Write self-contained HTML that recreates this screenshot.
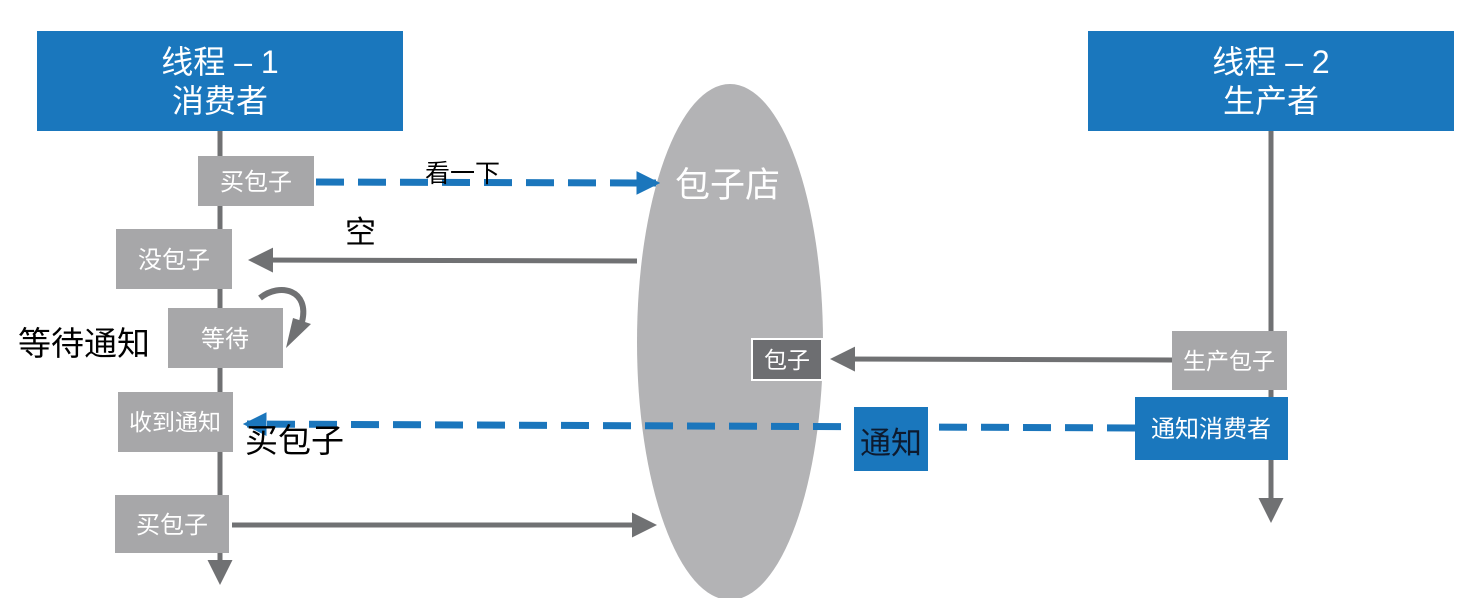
<!DOCTYPE html>
<html><head><meta charset="utf-8"><style>
html,body{margin:0;padding:0;background:#fff;}
svg{display:block;}
text{font-family:"Liberation Sans","Noto Sans CJK SC",sans-serif;}
</style></head><body>
<svg width="1468" height="598" viewBox="0 0 1468 598" xmlns="http://www.w3.org/2000/svg">
<defs>
<marker id="ag" markerWidth="5" markerHeight="5" refX="4" refY="2.5" orient="auto" markerUnits="strokeWidth"><path d="M0,0 L5,2.5 L0,5 z" fill="#707173"/></marker>
<marker id="ab" markerWidth="3.4" markerHeight="3.4" refX="2.8" refY="1.7" orient="auto" markerUnits="strokeWidth"><path d="M0,0 L3.4,1.7 L0,3.4 z" fill="#1b76bc"/></marker>
</defs>
<rect x="37" y="31" width="366" height="100" fill="#1a77bd"/>
<text x="220" y="73" font-size="32" fill="#fff" text-anchor="middle">线程 – 1</text>
<text x="220" y="112" font-size="32" fill="#fff" text-anchor="middle">消费者</text>
<rect x="1088" y="31" width="366" height="100" fill="#1a77bd"/>
<text x="1271" y="73" font-size="32" fill="#fff" text-anchor="middle">线程 – 2</text>
<text x="1271" y="112" font-size="32" fill="#fff" text-anchor="middle">生产者</text>
<line x1="220" y1="131" x2="220" y2="580" stroke="#707173" stroke-width="5" marker-end="url(#ag)"/>
<line x1="1271" y1="131" x2="1271" y2="518" stroke="#707173" stroke-width="5" marker-end="url(#ag)"/>
<ellipse cx="730" cy="342" rx="93" ry="258" fill="#b3b3b5"/>
<text x="675" y="197" font-size="35" fill="#fff">包子店</text>
<line x1="316" y1="182" x2="656" y2="183" stroke="#1b76bc" stroke-width="7" stroke-dasharray="28,14" marker-end="url(#ab)"/>
<line x1="637" y1="261" x2="253" y2="260" stroke="#707173" stroke-width="5" marker-end="url(#ag)"/>
<line x1="1172" y1="360" x2="835" y2="359" stroke="#707173" stroke-width="5" marker-end="url(#ag)"/>
<line x1="1135" y1="428" x2="247" y2="424" stroke="#1b76bc" stroke-width="7" stroke-dasharray="28,14" marker-end="url(#ab)"/>
<line x1="232" y1="525" x2="652" y2="525" stroke="#707173" stroke-width="5" marker-end="url(#ag)"/>
<path d="M260,298 C280,282 310,290 302,322" fill="none" stroke="#707173" stroke-width="6"/>
<path d="M293,318 L311,324 L286,348 z" fill="#707173"/>
<rect x="198" y="156" width="116" height="50" fill="#a7a7a9"/>
<text x="256" y="190" font-size="24" fill="#fff" text-anchor="middle">买包子</text>
<rect x="116" y="229" width="116" height="60" fill="#a7a7a9"/>
<text x="174" y="268" font-size="24" fill="#fff" text-anchor="middle">没包子</text>
<rect x="168" y="308" width="115" height="60" fill="#a7a7a9"/>
<text x="225" y="347" font-size="24" fill="#fff" text-anchor="middle">等待</text>
<rect x="118" y="392" width="115" height="60" fill="#a7a7a9"/>
<text x="175" y="430" font-size="23" fill="#fff" text-anchor="middle">收到通知</text>
<rect x="115" y="495" width="114" height="58" fill="#a7a7a9"/>
<text x="172" y="533" font-size="24" fill="#fff" text-anchor="middle">买包子</text>
<rect x="752" y="339" width="70" height="41" fill="#6d6e71" stroke="#fff" stroke-width="2"/>
<text x="787" y="368" font-size="23" fill="#fff" text-anchor="middle">包子</text>
<rect x="1172" y="331" width="115" height="59" fill="#a7a7a9"/>
<text x="1229" y="369" font-size="23" fill="#fff" text-anchor="middle">生产包子</text>
<rect x="1135" y="397" width="153" height="63" fill="#1a77bd"/>
<text x="1211" y="437" font-size="24" fill="#fff" text-anchor="middle">通知消费者</text>
<rect x="854" y="407" width="74" height="64" fill="#1a77bd"/>
<text x="891" y="454" font-size="31" fill="#0d1a2e" text-anchor="middle">通知</text>
<text x="425" y="182" font-size="25" fill="#000">看一下</text>
<text x="345" y="243" font-size="31" fill="#000">空</text>
<text x="18" y="355" font-size="33" fill="#000">等待通知</text>
<text x="245" y="452" font-size="33" fill="#000">买包子</text>
</svg>
</body></html>
